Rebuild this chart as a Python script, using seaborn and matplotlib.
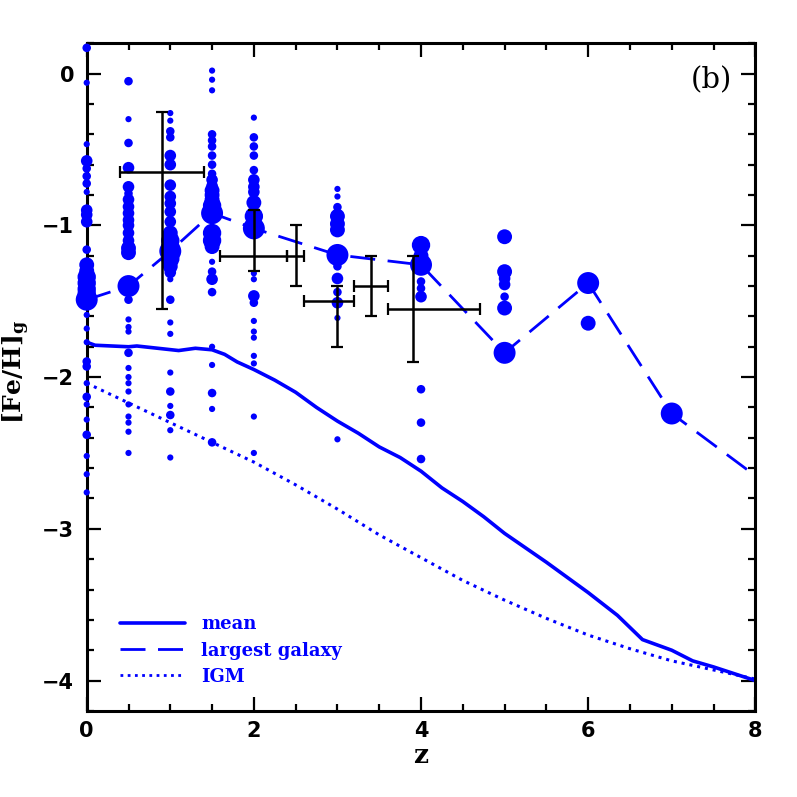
import numpy as np
import pandas as pd
import seaborn as sns
import matplotlib.pyplot as plt
from matplotlib.lines import Line2D
from matplotlib.ticker import MultipleLocator

# galaxies at each redshift: [Fe/H]_g and a rough mass class (1 = smallest)
feh_z0 = [0.17, -0.06, -0.465, -0.575, -0.625, -0.676, -0.724, -0.78, -0.90, -0.93,
          -0.976, -1.16, -1.26, -1.30, -1.34, -1.38, -1.42, -1.45, -1.59, -1.68,
          -1.77, -1.897, -1.93, -2.04, -2.13, -2.18, -2.28, -2.38, -2.52, -2.64, -2.76]
w_z0 = [2, 1, 1, 3, 2, 2, 2, 1, 3, 3, 3, 2, 4, 4, 5, 5, 5, 5, 1, 1, 1, 2, 2, 1, 2, 1, 1, 2, 1, 1, 1]

feh_z05 = [-0.05, -0.30, -0.457, -0.62, -0.746, -0.79, -0.83, -0.877, -0.92, -0.965,
           -1.0, -1.05, -1.1, -1.15, -1.18, -1.49, -1.62, -1.67, -1.70, -1.84,
           -1.94, -2.0, -2.04, -2.095, -2.18, -2.26, -2.30, -2.36, -2.50]
w_z05 = [2, 1, 2, 3, 3, 2, 3, 3, 3, 3, 3, 3, 3, 4, 4, 2, 1, 1, 1, 2, 1, 1, 1, 1, 1, 1, 1, 1, 1]

feh_z1 = [-0.26, -0.31, -0.38, -0.42, -0.54, -0.60, -0.735, -0.81, -0.855, -0.91,
          -0.976, -1.05, -1.10, -1.14, -1.22, -1.27, -1.31, -1.355, -1.49, -1.64,
          -1.715, -1.97, -2.095, -2.19, -2.25, -2.35, -2.53]
w_z1 = [1, 1, 2, 2, 3, 3, 3, 3, 3, 3, 3, 4, 5, 5, 5, 4, 3, 1, 2, 1, 1, 1, 2, 1, 2, 1, 1]

feh_z15 = [0.02, -0.04, -0.11, -0.40, -0.44, -0.48, -0.54, -0.60, -0.66, -0.70,
           -0.74, -0.77, -0.80, -0.83, -0.87, -1.05, -1.10, -1.14, -1.24, -1.305,
           -1.355, -1.44, -1.80, -1.92, -2.105, -2.21, -2.43]
w_z15 = [1, 1, 1, 2, 2, 2, 2, 2, 2, 3, 3, 4, 4, 4, 5, 5, 5, 4, 1, 2, 3, 2, 1, 1, 2, 1, 2]

feh_z2 = [-0.29, -0.42, -0.48, -0.54, -0.636, -0.70, -0.746, -0.78, -0.85, -0.94,
          -1.316, -1.355, -1.465, -1.51, -1.63, -1.70, -1.74, -1.86, -1.91, -2.26, -2.50]
w_z2 = [1, 2, 2, 2, 2, 3, 3, 3, 4, 5, 1, 1, 3, 2, 1, 1, 1, 1, 1, 1, 1]

feh_z3 = [-0.76, -0.81, -0.88, -0.94, -0.99, -1.03, -1.27, -1.35, -1.44, -1.51, -1.61, -2.41]
w_z3 = [1, 1, 2, 4, 4, 4, 2, 3, 2, 3, 1, 1]

feh_z4 = [-1.13, -1.20, -1.37, -1.415, -1.47, -2.08, -2.30, -2.54]
w_z4 = [5, 4, 2, 2, 3, 2, 2, 2]

feh_z5 = [-1.075, -1.305, -1.35, -1.39, -1.47, -1.545]
w_z5 = [4, 4, 3, 3, 2, 4]

feh_z6 = [-1.645]
w_z6 = [4]

# largest galaxy track
z_big = [0, 0.5, 1, 1.5, 2, 3, 4, 5, 6, 7, 8]
feh_big = [-1.49, -1.40, -1.17, -0.92, -1.02, -1.195, -1.26, -1.84, -1.38, -2.24, -2.65]

# mean metallicity
z_mean = [0, 0.1, 0.5, 0.6, 1.1, 1.3, 1.5, 1.65, 1.8, 2.0, 2.25, 2.5, 2.75, 3.0, 3.25,
          3.5, 3.75, 4.0, 4.25, 4.5, 4.75, 5.0, 5.5, 6.0, 6.35, 6.65, 7.0, 7.25, 7.5, 8.0]
feh_mean = [-1.77, -1.79, -1.80, -1.795, -1.825, -1.81, -1.82, -1.85, -1.90, -1.95, -2.02,
            -2.10, -2.20, -2.29, -2.37, -2.46, -2.53, -2.62, -2.73, -2.82, -2.92, -3.03,
            -3.22, -3.42, -3.57, -3.73, -3.80, -3.87, -3.91, -4.0]

# IGM
z_igm = [0, 0.5, 1.0, 1.5, 2.0, 2.5, 3.0, 3.5, 4.0, 4.5, 5.0, 5.5, 6.0, 6.5, 7.0, 7.5, 8.0]
feh_igm = [-2.04, -2.17, -2.30, -2.43, -2.56, -2.71, -2.87, -3.04, -3.19, -3.34, -3.47,
           -3.59, -3.70, -3.79, -3.87, -3.93, -3.99]

# observations
obs_z = [0.9, 2.0, 2.5, 3.0, 3.4, 3.9]
obs_feh = [-0.65, -1.2, -1.2, -1.5, -1.4, -1.55]
obs_zlo = [0.5, 0.4, 0.1, 0.4, 0.2, 0.3]
obs_zhi = [0.5, 0.4, 0.1, 0.2, 0.2, 0.8]
obs_fehlo = [0.9, 0.1, 0.2, 0.3, 0.2, 0.35]
obs_fehhi = [0.4, 0.3, 0.2, 0.1, 0.2, 0.35]

cols = [(0, feh_z0, w_z0), (0.5, feh_z05, w_z05), (1, feh_z1, w_z1), (1.5, feh_z15, w_z15),
        (2, feh_z2, w_z2), (3, feh_z3, w_z3), (4, feh_z4, w_z4), (5, feh_z5, w_z5),
        (6, feh_z6, w_z6)]
rows = []
for z, fs, ws in cols:
    for f, w in zip(fs, ws):
        rows.append({'z': z, 'feh': f, 'w': w})
for z, f in zip(z_big[:-1], feh_big[:-1]):
    rows.append({'z': z, 'feh': f, 'w': 6})
df = pd.DataFrame(rows)

sns.set_style('ticks')
plt.rcParams['font.family'] = ['DejaVu Sans']
plt.rcParams['mathtext.fontset'] = 'dejavuserif'
plt.rcParams['text.color'] = 'black'
plt.rcParams['axes.labelcolor'] = 'black'
plt.rcParams['axes.edgecolor'] = 'black'

fig = plt.figure(figsize=(7.97, 7.97), dpi=100)
ax = fig.add_axes([0.1088, 0.108, 0.8389, 0.8377])

sns.lineplot(x=z_mean, y=feh_mean, color='blue', lw=2.6, sort=False, ax=ax)
sns.lineplot(x=z_igm, y=feh_igm, color='blue', lw=2.2, sort=False, ax=ax)
ax.lines[-1].set_linestyle((0, (1, 1.6)))
sns.lineplot(x=z_big, y=feh_big, color='blue', lw=2.0, sort=False, ax=ax)
ax.lines[-1].set_linestyle((0, (9, 4.5)))

sns.scatterplot(data=df, x='z', y='feh', size='w',
                sizes={1: 20, 2: 38, 3: 70, 4: 115, 5: 175, 6: 250},
                color='blue', linewidth=0, legend=False, ax=ax, zorder=3,
                clip_on=False)

ax.errorbar(obs_z, obs_feh, xerr=[obs_zlo, obs_zhi], yerr=[obs_fehlo, obs_fehhi],
            fmt='none', ecolor='black', elinewidth=1.8, capsize=4, capthick=1.6, zorder=5)

ax.set_xlim(0, 8)
ax.set_ylim(-4.2, 0.2)
ax.xaxis.set_major_locator(MultipleLocator(2))
ax.xaxis.set_minor_locator(MultipleLocator(0.5))
ax.yaxis.set_major_locator(MultipleLocator(1))
ax.yaxis.set_minor_locator(MultipleLocator(0.2))
for sp in ax.spines.values():
    sp.set_linewidth(2.2)
    sp.set_color('black')
    sp.set_visible(True)
    sp.set_zorder(2)
ax.tick_params(which='both', direction='in', top=True, right=True, width=1.6,
               colors='black', labelcolor='black')
ax.tick_params(which='major', length=10)
ax.tick_params(which='minor', length=5)
ax.tick_params(axis='x', labelsize=15, pad=7)
ax.tick_params(axis='y', labelsize=15, pad=9)
for lab in ax.get_xticklabels() + ax.get_yticklabels():
    lab.set_fontweight('bold')

ax.set_xlabel('z', fontsize=19, family='DejaVu Serif', fontweight='bold', color='black')
ax.set_ylabel(r'$\mathbf{[Fe/H]_g}$', fontsize=18, color='black')
ax.xaxis.set_label_coords(0.5, -0.048)
ax.yaxis.set_label_coords(-0.082, 0.508)

ax.text(0.935, 0.945, '(b)', transform=ax.transAxes, ha='center', va='center',
        fontsize=21, family='DejaVu Serif', color='black')

handles = [Line2D([], [], color='blue', lw=2.6),
           Line2D([], [], color='blue', lw=2.0, linestyle=(0, (9, 4.5))),
           Line2D([], [], color='blue', lw=2.0, linestyle=(0, (1, 1.6)))]
ax.legend(handles, ['mean', 'largest galaxy', 'IGM'], loc='upper left',
          bbox_to_anchor=(0.05, 0.143), frameon=False, handlelength=3.6,
          handletextpad=0.9, labelspacing=0.45, borderpad=0, borderaxespad=0,
          prop={'family': 'DejaVu Serif', 'weight': 'bold', 'size': 13},
          labelcolor='blue')

fig.savefig('out.png', dpi=100)
